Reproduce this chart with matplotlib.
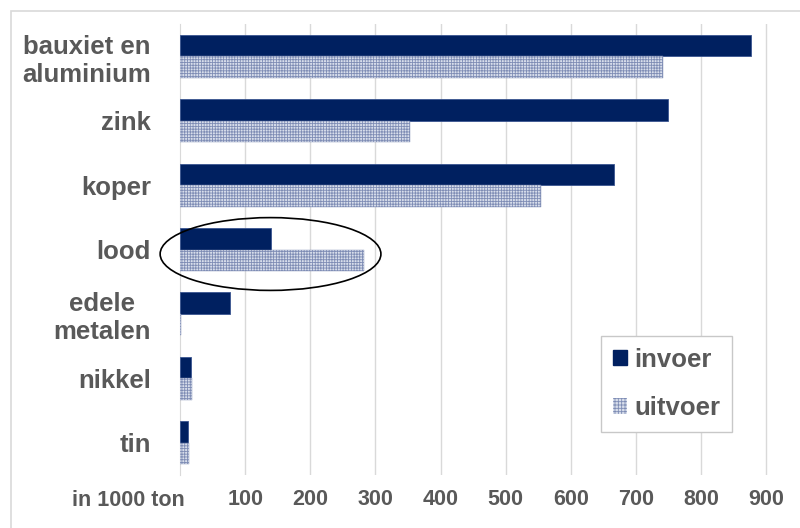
import matplotlib.pyplot as plt
import numpy as np
from matplotlib.patches import Ellipse, Patch, Rectangle

plt.rcParams['font.family'] = ['Liberation Sans', 'DejaVu Sans']
plt.rcParams['hatch.linewidth'] = 0.6

categorieen = ['bauxiet en\naluminium', 'zink', 'koper', 'lood', 'edele\nmetalen', 'nikkel', 'tin']
invoer = [876, 750, 666, 140, 77, 17, 12]
uitvoer = [742, 353, 554, 282, 2, 19, 14]
ticks = [100, 200, 300, 400, 500, 600, 700, 800, 900]

grijs = '#595959'
donkerblauw = '#002060'

fig = plt.figure(figsize=(8, 5.28), dpi=100)
ax = fig.add_axes([180 / 800, 53 / 528, 620 / 800, 451 / 528])

# kader rond de grafiek
fig.patches.append(Rectangle((10.5 / 800, -0.1), 1.2, 1 - 10.5 / 528 + 0.1,
                             transform=fig.transFigure, fill=False,
                             edgecolor='#d9d9d9', lw=1.2))

y = np.arange(len(categorieen))
h = 0.333
ax.barh(y - h / 2, invoer, height=h, color=donkerblauw, edgecolor='#3a5590', lw=0.6, zorder=3)
ax.barh(y + h / 2, uitvoer, height=h, color='#d8deeb', edgecolor='#7f8db5', lw=0.3,
        hatch='++++++', zorder=3)

ax.set_xlim(0, 952)
ax.set_ylim(len(categorieen) - 0.5, -0.5)
ax.set_xticks(ticks)
ax.set_xticklabels([str(t) for t in ticks])
ax.set_yticks(y)
ax.set_yticklabels(categorieen, ha='right', multialignment='center')
ax.tick_params(axis='both', length=0, colors=grijs, labelsize=15.5)
ax.tick_params(axis='y', pad=21, labelsize=18.5)
ax.tick_params(axis='x', pad=10)
for lab in ax.get_xticklabels() + ax.get_yticklabels():
    lab.set_fontweight('bold')

ax.grid(axis='x', color='#d9d9d9', lw=1, zorder=0)
for s in ['top', 'right', 'bottom']:
    ax.spines[s].set_visible(False)
ax.spines['left'].set_color('#d9d9d9')

ax.text(185 / 800, 1 - 500 / 528, 'in 1000 ton', transform=fig.transFigure,
        ha='right', va='center', fontsize=15.5, fontweight='bold', color=grijs)

# ellips rond lood
ax.add_patch(Ellipse((139, 3.07), 339, 1.13, fill=False, edgecolor='black', lw=1.2,
                     clip_on=False, zorder=4))

handles = [Patch(facecolor=donkerblauw, edgecolor=donkerblauw, label='invoer'),
           Patch(facecolor='#d8deeb', edgecolor='#7f8db5', hatch='+++++', lw=0, label='uitvoer')]
leg = ax.legend(handles=handles, loc='upper left', bbox_to_anchor=(601 / 800, 1 - 336 / 528),
                bbox_transform=fig.transFigure, borderaxespad=0, fontsize=18.5,
                handlelength=0.55, handleheight=0.55, handletextpad=0.3, borderpad=0.45,
                labelspacing=0.95, fancybox=False, framealpha=1, edgecolor='#c8c8c8')
leg.get_frame().set_linewidth(1)
for t in leg.get_texts():
    t.set_color(grijs)
    t.set_fontweight('bold')

fig.savefig('out.png', dpi=100)
